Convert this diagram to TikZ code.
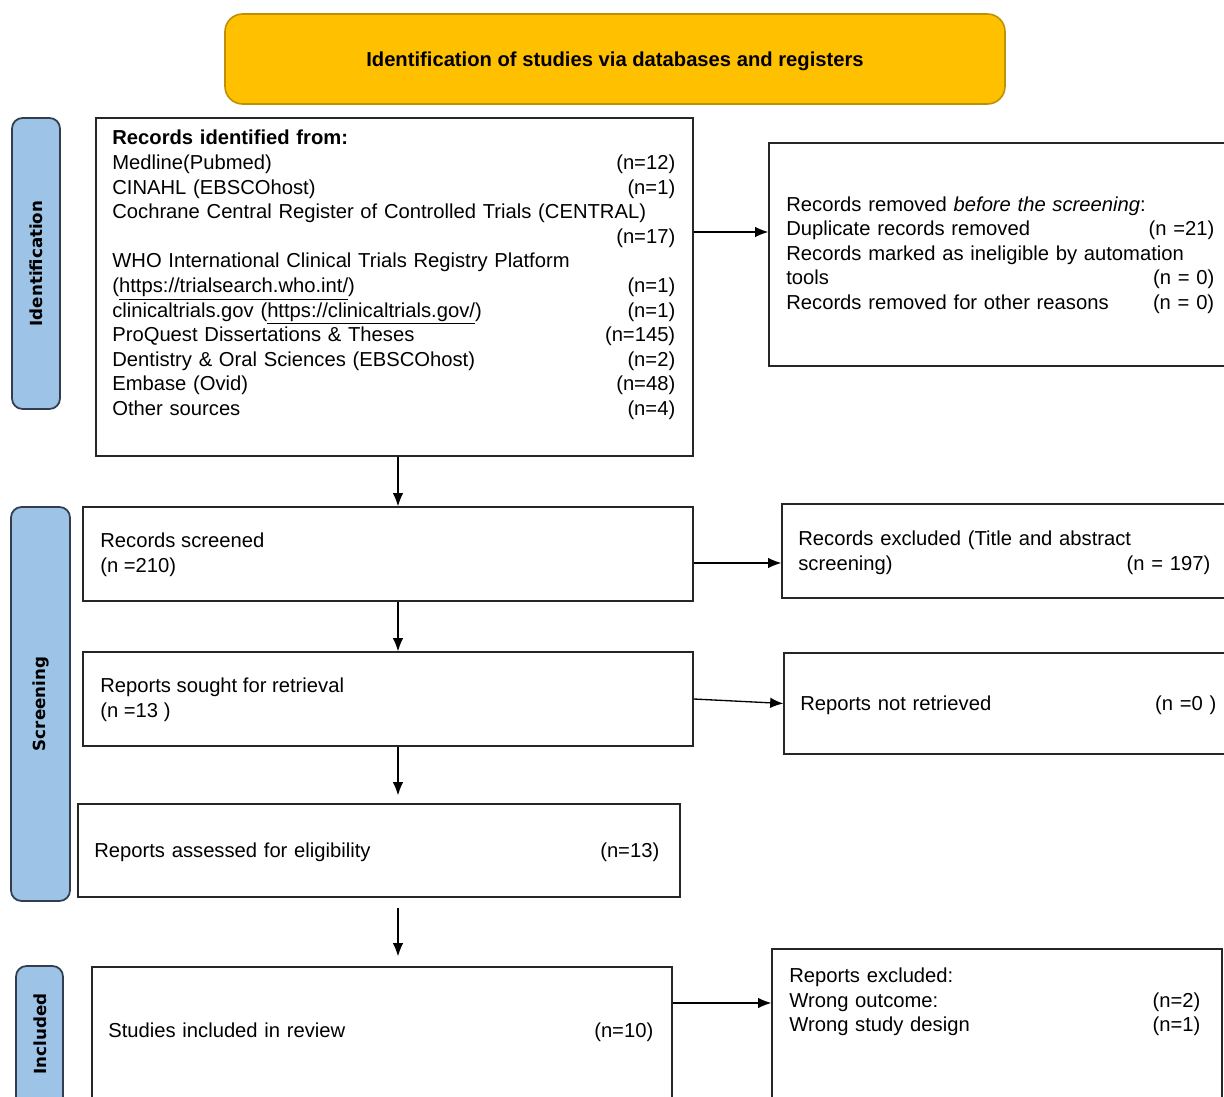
\documentclass[tikz,border=0pt]{standalone}
\usepackage{fontspec}
\setmainfont{Liberation Sans}
\newfontfamily\barfont{DejaVu Sans}
\usepackage{tikz}
\usetikzlibrary{arrows.meta,fit}
\def\px{0.02cm}
\definecolor{titlefill}{RGB}{255,192,0}
\definecolor{titleline}{RGB}{191,144,0}
\definecolor{barfill}{RGB}{157,195,230}
\definecolor{barline}{RGB}{50,62,80}
\tikzset{
	flowbox/.style={draw=black!85, line width=0.75pt, inner sep=0pt},
	sidebar/.style={draw=barline, fill=barfill, line width=1pt, rounded corners=6pt, inner sep=0pt},
	sidelabel/.style={rotate=90, inner sep=0pt, font=\barfont\bfseries\fontsize{9.5}{11}\selectfont},
	boxtext/.style={anchor=west, align=left, inner sep=0pt, font=\fontsize{11.5}{14}\selectfont},
	arr/.style={-{Latex[length=7.5pt,width=6pt]}, line width=0.75pt},
}

\begin{document}
\begin{tikzpicture}[x=\px, y=-\px]
	%%%%% START %%%%%
	\clip (0,0) rectangle (1224,1097);
	\fill[white] (0,0) rectangle (1224,1097);
	
	\node[fit={(225,14) (1005,104)}, draw=titleline, fill=titlefill, line width=0.9pt, rounded corners=10pt, inner sep=0pt] (title) {};
	\node[inner sep=0pt, font=\bfseries\fontsize{11.5}{14}\selectfont] (titletxt) at (615,61) {Identification of studies via databases and registers};
	
	% side bars
	\node[sidebar, fit={(12,118) (60,409)}] (idbar) {};
	\node[sidelabel] (idlabel) at (idbar.center) {Identification};
	\node[sidebar, fit={(11,507) (70,901)}] (scrbar) {};
	\node[sidelabel] (scrlabel) at (scrbar.center) {Screening};
	\node[sidebar, fit={(16,966) (63,1115)}] (incbar) {};
	\node[sidelabel] (inclabel) at (40,1034) {Included};
	
	% left column
	\node[flowbox, fit={(96,118) (693,456)}] (rec) {};
	\node[boxtext, text width=11.26cm] (rectxt) at (112,275) {\textbf{Records identified from:}\\
		Medline(Pubmed)\hfill(n=12)\\
		CINAHL (EBSCOhost)\hfill(n=1)\\
		Cochrane Central Register of Controlled Trials (CENTRAL)\\
		\mbox{}\hfill(n=17)\\
		WHO International Clinical Trials Registry Platform\\
		(\underline{https://trialsearch.who.int/})\hfill(n=1)\\
		clinicaltrials.gov (\underline{https://clinicaltrials.gov/})\hfill(n=1)\\
		ProQuest Dissertations \& Theses\hfill(n=145)\\
		Dentistry \& Oral Sciences (EBSCOhost)\hfill(n=2)\\
		Embase (Ovid)\hfill(n=48)\\
		Other sources\hfill(n=4)};
	
	\node[flowbox, fit={(83,507) (693,601)}] (screened) {};
	\node[boxtext] (screenedtxt) at (100,555) {Records screened\\(n =210)};
	
	\node[flowbox, fit={(83,652) (693,746)}] (sought) {};
	\node[boxtext] (soughttxt) at (100,700) {Reports sought for retrieval\\(n =13 )};
	
	\node[flowbox, fit={(78,804) (680,897)}] (assessed) {};
	\node[boxtext, text width=11.3cm] (assessedtxt) at (94,852) {Reports assessed for eligibility\hfill(n=13)};
	
	\node[flowbox, fit={(92,967) (672,1115)}] (included) {};
	\node[boxtext, text width=10.9cm] (includedtxt) at (108,1032) {Studies included in review\hfill(n=10)};
	
	% right column
	\node[flowbox, fit={(769,143) (1235,366)}] (removed) {};
	\node[boxtext, text width=8.56cm] (removedtxt) at (786,255) {Records removed \textit{before the screening}:\\
		Duplicate records removed\hfill(n =21)\\
		Records marked as ineligible by automation\\
		tools\hfill(n = 0)\\
		Records removed for other reasons\hfill(n = 0)};
	
	\node[flowbox, fit={(782,504) (1235,598)}] (excluded) {};
	\node[boxtext, text width=8.24cm] (excludedtxt) at (798,553) {Records excluded (Title and abstract\\
		screening)\hfill(n = 197)};
	
	\node[flowbox, fit={(784,653) (1235,754)}] (notret) {};
	\node[boxtext, text width=8.32cm] (notrettxt) at (800,705) {Reports not retrieved\hfill(n =0 )};
	
	\node[flowbox, fit={(772,949) (1222,1115)}] (repexcl) {};
	\node[boxtext, text width=8.22cm] (repexcltxt) at (789,1002) {Reports excluded:\\
		Wrong outcome:\hfill(n=2)\\
		Wrong study design\hfill(n=1)};
	
	% arrows
	\coordinate (spine) at (398,0);
	\coordinate (lvlrm) at (0,232);
	\coordinate (lvlex) at (0,563);
	\coordinate (lvlre) at (0,1003);
	
	\draw[arr] (rec.south -| spine) -- (screened.north -| spine);
	\draw[arr] (screened.south -| spine) -- (sought.north -| spine);
	\draw[arr, shorten >=0.16cm] (sought.south -| spine) -- (assessed.north -| spine);
	\draw[arr, shorten <=0.2cm, shorten >=0.2cm] (assessed.south -| spine) -- (included.north -| spine);
	
	\draw[arr] (rec.east |- lvlrm) -- (removed.west |- lvlrm);
	\draw[arr] (screened.east |- lvlex) -- (excluded.west |- lvlex);
	\draw[arr] (sought.east) -- (notret.west);
	\draw[arr] (included.east |- lvlre) -- (repexcl.west |- lvlre);
	
	%%%%% END %%%%%
\end{tikzpicture}
\end{document}
